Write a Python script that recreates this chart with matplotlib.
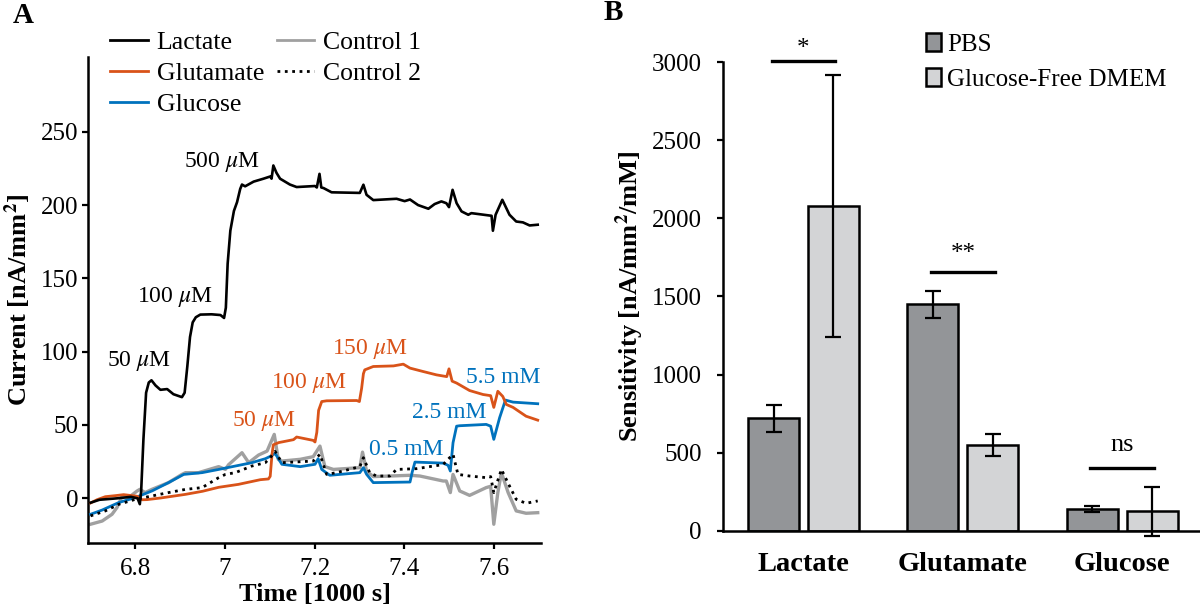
import matplotlib
matplotlib.use('Agg')
import matplotlib.pyplot as plt
from matplotlib.lines import Line2D

plt.rcParams['font.family'] = ['Liberation Serif', 'DejaVu Serif']
plt.rcParams['mathtext.fontset'] = 'stix'

# ---------------- Panel A data (time in 1000 s, current in nA/mm^2) ----------------
lac_t = [6.700, 6.720, 6.760, 6.790, 6.805, 6.810, 6.813, 6.818, 6.824, 6.830, 6.836, 6.845,
         6.856, 6.871, 6.885, 6.904, 6.910, 6.916, 6.922, 6.928, 6.935, 6.945, 6.970, 6.990,
         6.998, 7.002, 7.006, 7.012, 7.020, 7.027, 7.034, 7.038, 7.045, 7.064, 7.086, 7.101,
         7.104, 7.108, 7.115, 7.123, 7.145, 7.160, 7.201, 7.205, 7.211, 7.215, 7.220, 7.238,
         7.301, 7.309, 7.316, 7.331, 7.383, 7.401, 7.413, 7.431, 7.454, 7.468, 7.483, 7.494,
         7.500, 7.508, 7.517, 7.528, 7.543, 7.550, 7.595, 7.598, 7.604, 7.619, 7.635, 7.650,
         7.665, 7.680, 7.698]
lac_v = [-3, -1, 0, 1, 0, -4, 5, 40, 72, 79, 80.5, 77,
         74, 74.5, 71, 69, 72, 90, 110, 120, 123.5, 125.3, 125.5, 125,
         123, 130, 160, 182.5, 196, 202, 211, 214, 212.8, 216, 218, 219.5,
         218, 227, 222, 218, 214, 212.3, 213, 212, 221.3, 212, 211.6, 208.7,
         208.3, 213.9, 207, 203.4, 204.3, 202.7, 203.8, 200, 197.5, 200.7, 202.5, 201.3,
         198.6, 210.4, 201.3, 195.7, 193.4, 194.5, 192.7, 182.5, 193.4, 203.6, 193.4, 188.8,
         188.2, 186.1, 186.6]

glu_t = [6.700, 6.715, 6.733, 6.755, 6.774, 6.804, 6.815, 6.826, 6.856, 6.912, 6.950, 6.986,
         7.030, 7.079, 7.097, 7.101, 7.105, 7.108, 7.120, 7.153, 7.160, 7.197, 7.201, 7.205,
         7.209, 7.216, 7.227, 7.294, 7.300, 7.305, 7.309, 7.312, 7.331, 7.376, 7.398, 7.413,
         7.442, 7.472, 7.495, 7.500, 7.507, 7.517, 7.546, 7.576, 7.593, 7.600, 7.609, 7.620,
         7.628, 7.643, 7.672, 7.698]
glu_v = [-3.2, -0.9, 1.1, 1.8, 2.5, 1.4, -1.0, -0.9, 0.2, 2.7, 4.8, 7.5,
         9.5, 12.7, 13.2, 15, 30, 36.5, 38, 40, 41.8, 39.5, 38.4, 45,
         60, 66, 66.5, 66.7, 66, 75, 85, 87.6, 89.9, 90.3, 91.5, 88.8,
         86.5, 84.2, 83, 88.3, 79.9, 78.6, 73.5, 70.8, 70, 62, 73, 69.5,
         64, 62, 56, 53.3]

gluc_t = [6.700, 6.726, 6.763, 6.800, 6.837, 6.874, 6.908, 6.949, 6.986, 7.023, 7.060, 7.090,
          7.101, 7.112, 7.127, 7.168, 7.201, 7.208, 7.216, 7.234, 7.301, 7.309, 7.316, 7.331,
          7.413, 7.418, 7.424, 7.487, 7.498, 7.503, 7.509, 7.517, 7.524, 7.583, 7.593, 7.600,
          7.613, 7.626, 7.643, 7.698]
gluc_v = [-10.9, -8, -2.9, 0.5, 5, 10.7, 16.3, 17.5, 19.7, 22, 24.3, 27,
          28.6, 30.6, 23.2, 21.6, 23.2, 27, 19.7, 15.7, 17.5, 20.9, 16.4, 10.7,
          11.1, 18, 24.7, 24, 22.5, 18.6, 37.9, 49.2, 49.5, 50.4, 49.2, 40.2,
          55, 67, 65.6, 64.5]

c1_t = [6.700, 6.726, 6.748, 6.759, 6.771, 6.785, 6.804, 6.810, 6.822, 6.837, 6.874, 6.904,
        6.912, 6.941, 6.986, 7.001, 7.008, 7.038, 7.053, 7.075, 7.094, 7.110, 7.119, 7.127,
        7.168, 7.197, 7.212, 7.223, 7.242, 7.301, 7.307, 7.316, 7.331, 7.368, 7.413, 7.435,
        7.487, 7.494, 7.503, 7.509, 7.524, 7.546, 7.583, 7.593, 7.600, 7.609, 7.617, 7.632,
        7.650, 7.672, 7.698]
c1_v = [-17.7, -15.5, -10.9, -6.3, 1.6, 0.5, 5, 6.1, 3.9, 6.1, 10.7, 16.3,
        17.5, 17.5, 21.6, 19.7, 22.9, 31.1, 24.3, 29.5, 32.2, 43.6, 26.6, 25.4,
        26.6, 28.4, 35.6, 21.6, 19.7, 20.9, 31.5, 18.6, 14.8, 15.2, 15.7, 15.2,
        11.8, 11.8, 3.9, 16.3, 5, 2, 7.3, 8.2, -17.7, 3.9, 17.5, 3.9,
        -8.6, -10.2, -9.8]

c2_t = [6.700, 6.733, 6.763, 6.800, 6.837, 6.874, 6.912, 6.949, 6.986, 7.001, 7.023, 7.060,
        7.090, 7.101, 7.112, 7.127, 7.197, 7.212, 7.227, 7.249, 7.301, 7.309, 7.323, 7.338,
        7.368, 7.383, 7.427, 7.487, 7.494, 7.509, 7.520, 7.546, 7.583, 7.593, 7.600, 7.617,
        7.635, 7.650, 7.672, 7.698]
c2_v = [-12, -8.6, -4.1, -0.7, 1.6, 3.9, 6.1, 7.3, 14.1, 16.3, 17.5, 22,
        24.3, 27.7, 32, 24.3, 25.4, 30, 16.3, 17.5, 21.6, 27.7, 17.5, 15.2,
        15.2, 19.7, 20.2, 23, 25.4, 30, 16.3, 15.2, 14.1, 14.8, 3.9, 19.7,
        8.4, -0.7, -3.4, -1.8]

a_xticks = [6.8, 7.0, 7.2, 7.4, 7.6]
a_xticklabels = ['6.8', '7', '7.2', '7.4', '7.6']
a_yticks = [0, 50, 100, 150, 200, 250]

# concentration labels: (text, time, current, series)
conc_labels = [
    ('50 $\\mu$M', 6.809, 93.6, 'lac'),
    ('100 $\\mu$M', 6.888, 137.0, 'lac'),
    ('500 $\\mu$M', 6.994, 229.5, 'lac'),
    ('50 $\\mu$M', 7.088, 52.8, 'glu'),
    ('100 $\\mu$M', 7.188, 78.7, 'glu'),
    ('150 $\\mu$M', 7.324, 101.5, 'glu'),
    ('0.5 mM', 7.404, 33.4, 'gluc'),
    ('2.5 mM', 7.501, 58.2, 'gluc'),
    ('5.5 mM', 7.620, 82.7, 'gluc'),
]

# ---------------- Panel B data ----------------
analytes = ['Lactate', 'Glutamate', 'Glucose']
pbs_mean = [720, 1450, 138]
pbs_err = [87, 88, 17]
dmem_mean = [2080, 548, 123]
dmem_err = [838, 72, 157]
sig_labels = ['*', '**', 'ns']
sig_line_y = [3007, 1656, 403]
sig_text_y = [3085, 1775, 549]
b_yticks = [0, 500, 1000, 1500, 2000, 2500, 3000]

# ---------------- styles ----------------
C_LAC = 'black'
C_GLU = '#D95319'
C_GLUC = '#0072BD'
C_C1 = '#a0a0a0'
C_C2 = 'black'
C_PBS = '#939598'
C_DMEM = '#d3d4d6'
series_color = {'lac': C_LAC, 'glu': C_GLU, 'gluc': C_GLUC}

fig = plt.figure(figsize=(12, 6.07), dpi=100)

# ================= Panel A =================
axA = fig.add_axes([0.07358, 0.1054, 0.3775, 0.8007])
axA.plot(c1_t, c1_v, color=C_C1, lw=2.4, zorder=2)
axA.plot(gluc_t, gluc_v, color=C_GLUC, lw=2.0, zorder=3)
axA.plot(glu_t, glu_v, color=C_GLU, lw=2.0, zorder=3)
axA.plot(c2_t, c2_v, color=C_C2, lw=2.0, ls=':', zorder=4)
axA.plot(lac_t, lac_v, color=C_LAC, lw=1.9, zorder=5)

for txt, tx, ty, s in conc_labels:
    axA.text(tx, ty, txt, color=series_color[s], fontsize=17, ha='center', va='center')

axA.set_xlim(6.695, 7.706)
axA.set_ylim(-30.5, 301)
axA.set_xticks(a_xticks)
axA.set_xticklabels(a_xticklabels)
axA.set_yticks(a_yticks)
for sp in ['top', 'right']:
    axA.spines[sp].set_visible(False)
for sp in ['left', 'bottom']:
    axA.spines[sp].set_linewidth(1.8)
axA.tick_params(axis='both', direction='out', length=4, width=1.6, labelsize=18, pad=3)
axA.tick_params(axis='x', pad=7)
axA.set_xlabel('Time [1000 s]', fontsize=19, fontweight='bold', labelpad=2)
axA.set_ylabel('Current [nA/mm$^{\\mathbf{2}}$]', fontsize=19, fontweight='bold', labelpad=6)

handles = [Line2D([], [], color=C_LAC, lw=2), Line2D([], [], color=C_GLU, lw=2),
           Line2D([], [], color=C_GLUC, lw=2), Line2D([], [], color=C_C1, lw=2),
           Line2D([], [], color=C_C2, lw=2, ls=':')]
names = ['Lactate', 'Glutamate', 'Glucose', 'Control 1', 'Control 2']
fig.legend(handles, names, ncol=2, loc='upper left', bbox_to_anchor=(0.092, 0.9485),
           frameon=False, fontsize=18.5, handlelength=1.45, handletextpad=0.35,
           columnspacing=0.5, labelspacing=0.3, borderpad=0, borderaxespad=0)

fig.text(0.011, 0.975, 'A', fontsize=21, fontweight='bold', va='center', ha='left')

# ================= Panel B =================
axB = fig.add_axes([0.60225, 0.1257, 0.39775, 0.7717])
xs = list(range(len(analytes)))
w = 0.32
off = 0.188
xp = [x - off for x in xs]
xd = [x + off for x in xs]
axB.bar(xp, pbs_mean, w, color=C_PBS, edgecolor='black', linewidth=1.8, zorder=2, label='PBS')
axB.bar(xd, dmem_mean, w, color=C_DMEM, edgecolor='black', linewidth=1.8, zorder=2,
        label='Glucose-Free DMEM')
for xx, m, e in [(xp, pbs_mean, pbs_err), (xd, dmem_mean, dmem_err)]:
    eb = axB.errorbar(xx, m, yerr=e, fmt='none', ecolor='black', elinewidth=1.6,
                      capsize=5.5, capthick=1.6, zorder=3)
    for art in eb.lines[1]:
        art.set_clip_on(False)
    for art in eb.lines[2]:
        art.set_clip_on(False)

for x, lab, ly, ty in zip(xs, sig_labels, sig_line_y, sig_text_y):
    axB.plot([x - 0.2, x + 0.2], [ly, ly], color='black', lw=2.4, clip_on=False, zorder=4)
    axB.text(x, ty, lab, ha='center', va='center', fontsize=19 if lab == 'ns' else 18)

axB.set_xlim(-0.507, 2.489)
axB.set_ylim(0, 3000)
axB.set_yticks(b_yticks)
axB.set_xticks(xs)
axB.set_xticklabels(analytes, fontsize=20.5, fontweight='bold')
for sp in ['top', 'right']:
    axB.spines[sp].set_visible(False)
for sp in ['left', 'bottom']:
    axB.spines[sp].set_linewidth(1.8)
axB.tick_params(axis='y', direction='out', length=4, width=1.6, labelsize=18, pad=11)
axB.tick_params(axis='x', length=0, pad=15)
axB.set_ylabel('Sensitivity [nA/mm$^{\\mathbf{2}}$/mM]', fontsize=19, fontweight='bold', labelpad=4)

axB.legend(loc='upper left', bbox_to_anchor=(0.425, 1.063), frameon=False, fontsize=18,
           handlelength=0.6, handleheight=0.75, handletextpad=0.25, labelspacing=0.5,
           borderpad=0, borderaxespad=0)

fig.text(0.503, 0.98, 'B', fontsize=21, fontweight='bold', va='center', ha='left')

fig.savefig('out.png', dpi=100)
